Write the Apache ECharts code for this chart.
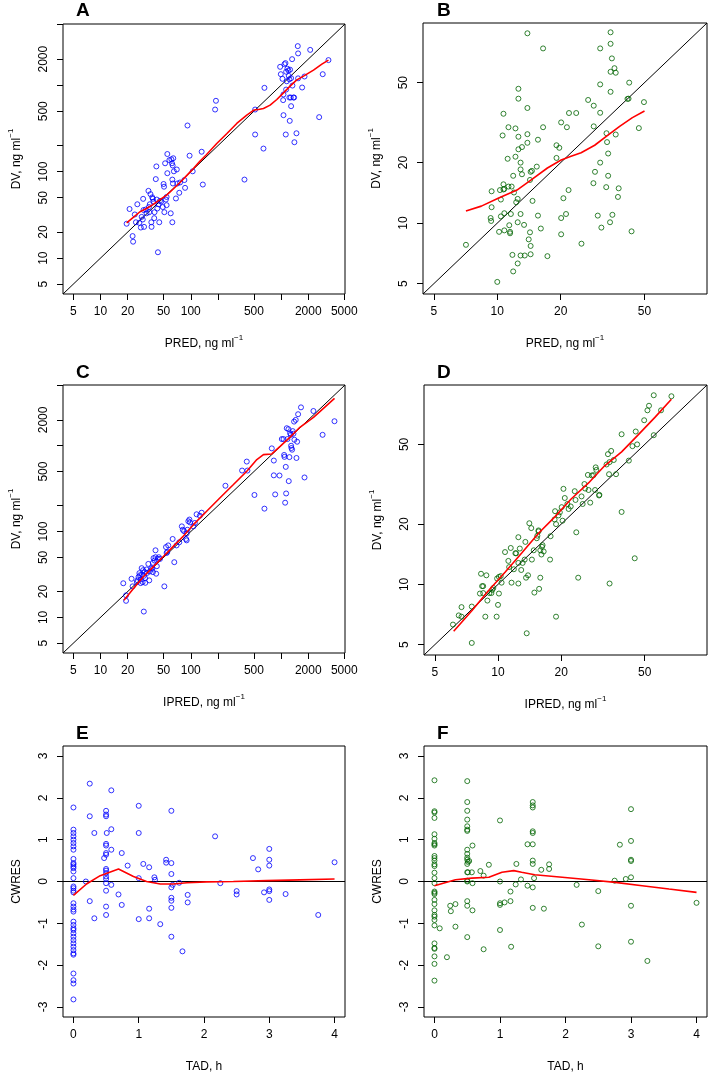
<!DOCTYPE html>
<html><head><meta charset="utf-8">
<script src="https://cdn.jsdelivr.net/npm/echarts@6/dist/echarts.min.js"></script>
<style>html,body{margin:0;padding:0;background:#fff}#c{width:709px;height:1075px}</style>
</head><body><div id="c"></div>
<script>
// ---------- tick / label values ----------
const logTicksWide = [5,10,20,50,100,200,500,1000,2000,5000];
const logLabelsWideX = [5,10,20,50,100,500,2000,5000];
const logLabelsWideY = [5,10,20,50,100,500,2000];
const logTicksNarrow = [5,10,20,50];
const tadTicks = [0,1,2,3,4];
const resTicks = [-3,-2,-1,0,1,2,3];
const rangeWide = [3.85, 5100];
const rangeNarrow = [4.44, 99];
const rangeTad = [-0.16, 4.16];
const rangeRes = [-3.24, 3.24];
const panelLetters = ['A','B','C','D','E','F'];
const xTitles = ['PRED, ng ml','PRED, ng ml','IPRED, ng ml','IPRED, ng ml','TAD, h','TAD, h'];
const yTitles = ['DV, ng ml','DV, ng ml','DV, ng ml','DV, ng ml','CWRES','CWRES'];

// ---------- data: A (DV vs PRED, parent) ----------
const pointsA = [[19.5,25],[21,37],[22.7,18],[23,15.5],[24,32],[24.7,26],[25.6,42],[27,25.6],[28,22.6],[28.6,30],[29.4,28],[29.7,48.5],[30,36],[30.4,23],[31.7,36.5],[32.4,33],[34,60],[34.4,39],[34.7,34],[35.2,42],[35.8,55],[36.6,26],[36.8,23],[37.5,50.5],[38,48.5],[38.7,45],[39.4,29],[39.7,34],[41,82],[41.6,115],[42,47.6],[42.6,37.5],[43.3,11.7],[44,42],[44.8,26],[45.6,46],[47,45],[49,39],[50,72],[50.6,67],[51,34],[52,125],[53,47.6],[54,51],[54,41],[55,96],[55,160],[58,136],[60,33],[61,139],[62,125],[62.5,81],[62.5,26],[63,118],[63.5,73],[64,143],[65,101],[68.5,49],[70,106],[71,73],[74.6,57],[76,75],[85,80],[86.5,65],[97,153],[105,101],[132,170],[136,71],[186,523],[190,660],[92,342],[393,81],[516,523],[516,269],[638,185],[654,932],[976,1630],[993,1340],[1036,1185],[1054,672],[1063,450],[1063,781],[1090,1750],[1118,1800],[1137,1430],[1127,269],[1137,890],[1156,1110],[1176,1550],[1206,1480],[1216,1280],[1237,720],[1237,1170],[1247,387],[1258,1510],[1280,720],[1291,572],[1291,1206],[1324,2000],[1335,990],[1370,720],[1393,720],[1404,219],[1480,278],[1530,2830],[1543,2330],[1543,1200],[1710,940],[1817,1260],[2100,2560],[2640,427],[2890,1340],[3345,1950]];
const loessA = [[19.5,25.6],[23.1,29.6],[27.4,34.4],[32.4,37.5],[38.1,41.6],[45.6,47.6],[54,53.5],[64,63],[75.9,75],[90,89.9],[107,109],[126,131.6],[149,157],[194,212],[251.5,276],[323,361],[417,450],[503,517],[561,523],[638,537],[756,588],[897,683],[1063,816],[1258,974],[1480,1144],[1771,1272],[2284,1493],[2828,1750],[3345,1947]];

// ---------- data: B (DV vs PRED, metabolite) ----------
const pointsB = [[13.9,88],[16.5,74],[34.5,89],[30.8,74],[34.5,78],[35,66],[36,59],[36.5,56],[34.5,56.6],[42.3,50],[30.8,49],[34.5,45],[12.6,46.6],[12.6,41.6],[13.9,37.4],[10.7,35],[42,41.6],[41.5,41.5],[49.7,40],[27,41],[28.7,38.4],[21.9,35.3],[23.7,35.3],[30.8,35.4],[20.1,31.7],[21.4,30],[16.5,30],[11.3,30],[12.2,29.6],[10.6,27.3],[13.9,27.7],[12.6,26.9],[28.7,30.3],[47,29.7],[33,28],[36.5,27.6],[33.2,25.3],[13.9,25.1],[15.6,26],[19.1,24.4],[19.7,23.7],[13.1,23.9],[12.6,23.3],[19.1,21.1],[33.6,22.2],[11.2,20.9],[12.2,21.4],[12.9,20],[30.8,20],[15.4,19.1],[14.6,18.2],[14.4,18],[12.9,18.5],[13.1,17.5],[29.1,18],[11.9,17.2],[33.6,17.2],[14.3,16.4],[28.6,15.8],[10.7,15.6],[10.7,14.7],[11.3,15.2],[11.7,15.2],[9.4,14.4],[10.3,14.6],[10.8,14.8],[10.4,13.1],[12,14.2],[21.8,14.6],[32.9,15.1],[37.7,14.9],[37.4,13.5],[20.6,13.3],[14.7,12.9],[12.5,13.2],[12.3,12.7],[9.4,12],[11.6,11.1],[12.9,11.1],[10.8,11.2],[10.4,10.8],[9.3,10.6],[9.35,10.25],[15.6,10.9],[20.1,10.6],[21.2,11.1],[30,10.9],[35.2,11],[34.3,10.1],[12.5,10.1],[11.4,9.76],[13.4,9.8],[10.2,9.05],[10.8,9.2],[11.5,9.05],[11.5,8.9],[14.3,9.0],[16.1,9.4],[31.2,9.5],[43.4,9.1],[14.1,8.3],[20.1,8.8],[25.1,7.9],[14.4,7.7],[7.1,7.8],[11.8,6.95],[14.4,7],[12.9,6.9],[13.5,6.9],[17.3,6.85],[12.5,6.3],[11.9,5.75],[10,5.1]];
const loessB = [[7.1,11.5],[8.4,12.15],[10.1,13.3],[12.4,14.6],[14.6,16.5],[17.3,18.8],[20.1,20.6],[22.4,21.5],[25,22.4],[29,24.4],[33.4,27.3],[38.1,30.3],[43.8,33.5],[50,36.1]];

// ---------- data: C (DV vs IPRED, parent) ----------
const pointsC = [[17.9,25],[19.2,18.1],[19.2,15.6],[22.1,28.2],[22.7,23],[25.3,25.8],[25.7,27],[26.4,29.6],[27,32.8],[27.4,31],[27.9,27.7],[27.9,25.1],[28.6,37.5],[28.8,31.5],[29.3,25.8],[29.7,35.5],[30.2,30.5],[30.9,33.7],[31.2,28.7],[31.4,25.3],[32.4,36.2],[32.8,33],[34.7,27],[33.9,42],[35.2,34.3],[36.6,37.5],[37.5,36.8],[38.1,43.2],[38.1,33.7],[38.7,49],[39.7,46],[40.7,60.5],[40.7,50.3],[41.4,32.3],[42.1,39.5],[43.2,48],[44.3,50.3],[45.6,48],[30.2,11.7],[51,23],[53.2,66],[54,56.3],[55,58],[56.3,69],[63,82],[65.7,44],[69.6,69],[74.6,75],[79.6,115],[81.6,105],[84.4,101],[88.6,82],[90,79],[90,95],[91.8,105],[94,132],[96.6,138],[98,128],[107,115],[111,126],[116,159],[126,153],[132,166],[242,342],[370,514],[417,654],[424,514],[507,267],[654,185],[789,932],[831,672],[831,452],[860,271],[960,450],[1019,1196],[1063,1196],[1081,781],[1090,742],[1109,217],[1127,567],[1137,278],[1156,1600],[1176,1196],[1206,1560],[1216,387],[1237,737],[1258,1400],[1280,1340],[1291,1000],[1302,941],[1324,899],[1346,1480],[1370,1380],[1393,1910],[1404,1174],[1452,2000],[1480,720],[1505,1113],[1543,2330],[1660,2800],[1817,427],[2280,2540],[2880,1340],[3900,1930]];
const loessC = [[18.2,15.8],[23.1,21.6],[29.7,29.6],[38.1,38.5],[49.7,51.2],[64,67.3],[82.4,88.3],[107,120.4],[149,171.5],[211,248],[295,351],[417,504],[539,690],[638,788],[789,802],[976,983],[1258,1260],[1615,1640],[2284,2145],[3905,3556]];

// ---------- data: D (DV vs IPRED, metabolite) ----------
const pointsD = [[6.1,6.3],[6.5,7],[6.7,7.7],[6.7,6.9],[7.5,5.1],[7.5,7.75],[8.3,11.3],[8.4,9.8],[8.5,9.8],[8.2,9],[8.5,9.05],[8.8,11.1],[8.7,6.9],[8.9,8.3],[9.1,9.05],[9.3,9.05],[9.4,9.4],[9.5,9.6],[9.85,6.9],[9.9,10.7],[10,7.9],[10.1,9],[10.1,10.9],[10.3,11],[10.4,10.2],[10.8,14.5],[11.2,13.1],[11.3,12.2],[11.5,15.2],[11.6,10.2],[11.9,11.9],[12.1,14.3],[12.2,14.3],[12.5,17.2],[12.5,12.8],[12.5,10.1],[12.7,15.1],[12.9,11.8],[13.1,12.8],[13.4,13.3],[13.5,16.3],[13.6,10.8],[13.7,5.7],[13.9,11.1],[14.1,20.2],[14.4,19.1],[14.5,13.3],[14.8,14.8],[14.9,9.1],[15.3,17],[15.4,17.5],[15.6,18.6],[15.6,18.4],[15.7,9.5],[15.9,14.8],[15.9,10.8],[16.1,14.1],[16.2,15.4],[16.3,15.7],[16.5,14.6],[17.7,13.3],[17.8,17.4],[18.6,21.1],[18.7,23.2],[18.9,20],[18.9,6.9],[19.4,22.1],[19.7,22.9],[20.1,24.3],[20.3,20.8],[20.5,30],[20.8,27],[21.4,25.2],[21.7,23.8],[22.2,24.5],[23.2,29.2],[23.4,26.4],[23.6,18.2],[24.1,10.8],[25,27.5],[25.3,25.2],[25.8,31.7],[26,30.1],[26.8,35.2],[27,29.6],[27.5,25.6],[28,35],[28.5,35.1],[29,29.6],[29.2,38.4],[29.4,37.3],[30.3,27.8],[30.4,28],[32.9,39.7],[33.4,44.7],[33.8,35.5],[34,40.8],[34,10.1],[34.6,46.4],[35.6,41.8],[36.5,35.5],[38.8,56.2],[38.8,23],[42,41.5],[43.7,49],[44.8,13.5],[45.3,58],[46,50],[49.7,66],[51.5,74],[52.4,78],[55.2,55.6],[55.2,88],[59.8,74],[67,87]];
const loessD = [[6.15,5.83],[7.52,7.4],[9.0,9.3],[10.8,11.5],[13,14.4],[15.6,18],[18.7,21.8],[22.3,26.7],[27,32.1],[32.2,39.1],[38.8,45.9],[46.4,55.6],[55.9,68.2],[67,84]];

// ---------- data: E (CWRES vs TAD, parent) ----------
const pointsE = [[0,1.77],[0,1.24],[0,1.16],[0,1.08],[0,1.0],[0,0.92],[0,0.84],[0,0.76],[0,0.54],[0,0.44],[0,0.41],[0,0.36],[0,0.32],[0,0.24],[0,0.08],[0,-0.12],[0,-0.16],[0,-0.22],[0,-0.26],[0,-0.52],[0,-0.6],[0,-0.67],[0,-0.72],[0,-0.96],[0,-1.04],[0,-1.12],[0,-1.16],[0,-1.24],[0,-1.32],[0,-1.4],[0,-1.48],[0,-1.56],[0,-1.64],[0,-1.72],[0,-1.75],[0,-2.2],[0,-2.36],[0,-2.44],[0,-2.82],
 [0.19,0],[0.25,2.34],[0.25,1.56],[0.25,-0.47],[0.32,1.16],[0.32,-0.88],[0.5,1.69],[0.5,1.6],[0.5,1.56],[0.5,0.9],[0.5,0.86],[0.5,0.68],[0.5,0.64],[0.47,0.56],[0.5,0.3],[0.5,0.26],[0.5,0.2],[0.5,0.12],[0.5,0.06],[0.5,-0.04],[0.5,-0.22],[0.5,-0.6],[0.5,-0.8],[0.51,1.16],[0.58,2.18],[0.58,1.25],[0.58,0.76],[0.58,-0.08],[0.69,-0.31],[0.74,0.68],[0.74,-0.56],[0.83,0.38],[1,1.81],[1,1.16],[1,0.08],[1,-0.9],[1.07,0.42],[1.16,0.34],[1.16,-0.65],[1.16,-0.88],[1.24,0.1],[1.25,0.04],[1.33,-1.02],[1.42,0.52],[1.42,0.45],[1.5,1.69],[1.5,0.44],[1.5,0.18],[1.5,-0.14],[1.5,-0.39],[1.5,-0.46],[1.5,-0.63],[1.5,-1.32],[1.52,-0.08],[1.62,-0.03],[1.67,-1.67],[1.75,-0.32],[1.75,-0.5],[2.17,1.08],[2.25,-0.04],[2.5,-0.23],[2.5,-0.31],[2.75,0.56],[2.83,0.29],[2.92,-0.26],[3,0.78],[3,0.52],[3,0.38],[3,-0.19],[3,-0.23],[3,-0.44],[3.25,-0.3],[3.75,-0.8],[4,0.46]];
const loessE = [[0,-0.33],[0.2,-0.06],[0.41,0.14],[0.69,0.3],[0.92,0.12],[1.12,0],[1.33,-0.06],[1.53,-0.06],[1.74,-0.03],[2.04,-0.01],[2.45,0],[2.96,0.02],[3.47,0.04],[4,0.06]];

// ---------- data: F (CWRES vs TAD, metabolite) ----------
const pointsF = [[0,2.42],[0,1.68],[0,1.65],[0,1.52],[0,1.13],[0,1.02],[0,0.92],[0,0.89],[0,0.86],[0,0.61],[0,0.56],[0,0.5],[0,0.41],[0,0.37],[0,0.21],[0,0.08],[0,-0.04],[0,-0.24],[0,-0.27],[0,-0.3],[0,-0.44],[0,-0.54],[0,-0.69],[0,-0.8],[0,-0.84],[0,-0.92],[0,-1.05],[0,-1.48],[0,-1.59],[0,-1.61],[0,-1.79],[0,-1.97],[0,-2.37],
 [0.08,-1.12],[0.19,-1.81],[0.24,-0.58],[0.25,-0.71],[0.32,-0.54],[0.32,-1.08],[0.5,2.4],[0.5,1.9],[0.5,1.69],[0.5,1.48],[0.5,1.32],[0.5,1.24],[0.5,1.21],[0.5,0.76],[0.5,0.66],[0.5,0.57],[0.5,0.52],[0.51,0.47],[0.5,0.42],[0.5,0.22],[0.51,0.22],[0.5,0.02],[0.5,0],[0.5,-0.47],[0.5,-0.58],[0.5,-1.33],[0.53,0.49],[0.57,0.22],[0.58,0.86],[0.58,-0.04],[0.58,-0.69],[0.7,0.25],[0.75,0.14],[0.75,-1.62],[0.83,0.4],[1,1.46],[1,0],[1,-0.52],[1,-0.56],[1,-1.16],[1.07,-0.5],[1.16,-0.24],[1.16,-0.47],[1.17,-1.56],[1.24,-0.07],[1.25,0.42],[1.32,0.05],[1.42,0.89],[1.42,-0.1],[1.5,1.9],[1.5,1.82],[1.5,1.77],[1.5,1.2],[1.5,1.16],[1.5,0.89],[1.5,0.5],[1.5,0.42],[1.5,-0.14],[1.5,-0.63],[1.52,0.08],[1.63,0.28],[1.67,-0.65],[1.75,0.41],[1.75,0.3],[2.17,-0.08],[2.25,-1.03],[2.5,-0.23],[2.5,-1.55],[2.75,0.02],[2.83,0.88],[2.92,0.06],[3,1.73],[3,0.97],[3,0.52],[3,0.49],[3,0.1],[3,-0.58],[3,-1.44],[3.25,-1.9],[4,-0.51]];
const loessF = [[0,-0.1],[0.32,0.04],[0.57,0.08],[0.83,0.1],[1.03,0.22],[1.21,0.26],[1.33,0.22],[1.53,0.16],[1.95,0.1],[2.36,0.04],[2.76,-0.02],[3.17,-0.1],[3.58,-0.18],[4,-0.26]];

// ---------- build ----------
const FONT = '"Liberation Sans", Arial, Helvetica, sans-serif';
const BLUE = '#0000FF', GREEN = '#006400', RED = '#FF0000';

const grids = [
  {left:63, top:24, width:282, height:270},
  {left:423, top:23, width:284, height:271},
  {left:63, top:385, width:282, height:268},
  {left:424, top:385, width:283, height:270},
  {left:63, top:746, width:282, height:271},
  {left:424, top:746, width:283, height:271}
];
const titlePos = [[76,1],[437,1],[76,363],[437,363],[76,724],[437,724]];

const panels = [
  {kind:'log', range:rangeWide, ticks:logTicksWide, lx:logLabelsWideX, ly:logLabelsWideY, pts:pointsA, loess:loessA, col:BLUE},
  {kind:'log', range:rangeNarrow, ticks:logTicksNarrow, lx:logTicksNarrow, ly:logTicksNarrow, pts:pointsB, loess:loessB, col:GREEN},
  {kind:'log', range:rangeWide, ticks:logTicksWide, lx:logLabelsWideX, ly:logLabelsWideY, pts:pointsC, loess:loessC, col:BLUE},
  {kind:'log', range:rangeNarrow, ticks:logTicksNarrow, lx:logTicksNarrow, ly:logTicksNarrow, pts:pointsD, loess:loessD, col:GREEN},
  {kind:'res', pts:pointsE, loess:loessE, col:BLUE},
  {kind:'res', pts:pointsF, loess:loessF, col:GREEN}
];

function richName(t) {
  return t.indexOf('ng ml') >= 0 ? '{a|' + t + '}{s|\u22121}' : '{a|' + t + '}';
}
function makeNameStyle() {
  return {
    color:'#000', fontFamily:FONT, fontSize:12, fontWeight:'normal',
    rich:{
      a:{fontSize:12, fontFamily:FONT, fontWeight:'normal', color:'#000', lineHeight:16, verticalAlign:'bottom'},
      s:{fontSize:8, fontFamily:FONT, fontWeight:'normal', color:'#000', lineHeight:9, verticalAlign:'top'}
    }
  };
}
function baseAxis(i, isY, tickVals, labelVals) {
  return {
    gridIndex:i,
    axisLine:{show:false, onZero:false},
    axisTick:{show:true, inside:false, length:6, customValues:tickVals, lineStyle:{color:'#000', width:1}},
    splitLine:{show:false},
    axisLabel:{customValues:labelVals, color:'#000', fontSize:12, fontFamily:FONT, fontWeight:'normal', margin:isY?13:12,
      rotate:isY?90:0, formatter:function(v){ return String(Math.round(v*100)/100); }},
    nameLocation:'middle',
    nameGap:40,
    nameTextStyle:makeNameStyle(),
    name:richName(isY ? yTitles[i] : xTitles[i])
  };
}

const xAxes = [], yAxes = [], series = [], titles = [];
panels.forEach(function(p, i){
  let xa, ya;
  if (p.kind === 'log') {
    xa = baseAxis(i, false, p.ticks, p.lx);
    ya = baseAxis(i, true, p.ticks, p.ly);
    xa.type = 'log'; ya.type = 'log'; xa.logBase = 10; ya.logBase = 10;
    xa.min = p.range[0]; xa.max = p.range[1];
    ya.min = p.range[0]; ya.max = p.range[1];
    series.push({type:'line', xAxisIndex:i, yAxisIndex:i, data:[[p.range[0],p.range[0]],[p.range[1],p.range[1]]],
      symbol:'none', silent:true, z:2, lineStyle:{color:'#000', width:1}});
  } else {
    xa = baseAxis(i, false, tadTicks, tadTicks);
    ya = baseAxis(i, true, resTicks, resTicks);
    xa.type = 'value'; ya.type = 'value';
    xa.min = rangeTad[0]; xa.max = rangeTad[1];
    ya.min = rangeRes[0]; ya.max = rangeRes[1];
    series.push({type:'line', xAxisIndex:i, yAxisIndex:i, data:[[rangeTad[0],0],[rangeTad[1],0]],
      symbol:'none', silent:true, z:2, lineStyle:{color:'#000', width:1.2}});
  }
  xAxes.push(xa); yAxes.push(ya);
  series.push({type:'scatter', xAxisIndex:i, yAxisIndex:i, data:p.pts, symbol:'circle', symbolSize:5, silent:true, z:3,
    itemStyle:{color:'rgba(255,255,255,0)', borderColor:p.col, borderWidth:1}});
  series.push({type:'line', xAxisIndex:i, yAxisIndex:i, data:p.loess, symbol:'none', silent:true, z:4,
    lineStyle:{color:RED, width:1.6}});
  titles.push({text:panelLetters[i], left:titlePos[i][0], top:titlePos[i][1], padding:0,
    textStyle:{fontFamily:FONT, fontSize:19, fontWeight:'bold', color:'#000'}});
});

const chart = echarts.init(document.getElementById('c'), null, {renderer:'canvas'});
chart.setOption({
  animation:false,
  backgroundColor:'#fff',
  title:titles,
  grid:grids.map(function(g){ return Object.assign({show:true, borderColor:'#000', borderWidth:1, backgroundColor:'rgba(0,0,0,0)', containLabel:false}, g); }),
  xAxis:xAxes,
  yAxis:yAxes,
  series:series
});
</script></body></html>
